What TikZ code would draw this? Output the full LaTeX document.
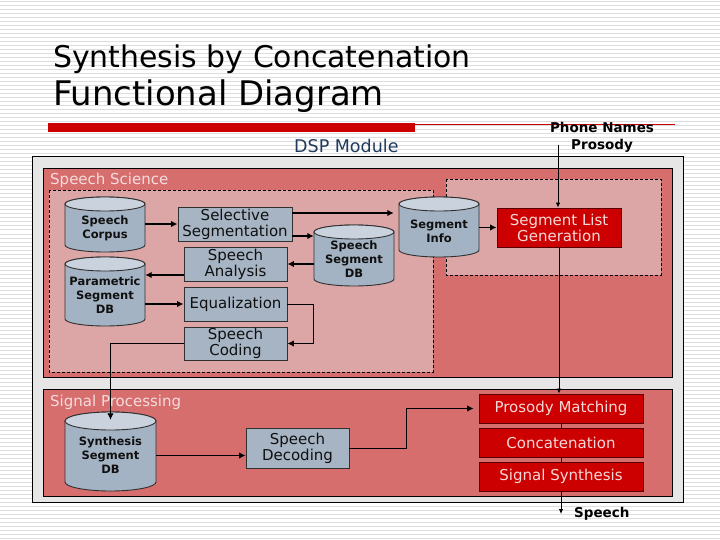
\documentclass[tikz,border=0pt]{standalone}
\usepackage{fontspec}
\setmainfont{DejaVu Sans}
\usetikzlibrary{arrows.meta}
\definecolor{stripe}{HTML}{DDDDDD}
\definecolor{redfill}{HTML}{CC0000}
\definecolor{redborder}{HTML}{5A0000}
\definecolor{redtxt}{HTML}{F6D8D8}
\definecolor{outerfill}{HTML}{E6E6E6}
\definecolor{secfill}{HTML}{D76E6E}
\definecolor{dashfill}{HTML}{DCA6A6}
\definecolor{boxfill}{HTML}{A6B4C4}
\definecolor{cylbody}{HTML}{A4B3C3}
\definecolor{cyltop}{HTML}{CAD3DD}
\definecolor{boxborder}{HTML}{303030}
\definecolor{txt}{HTML}{101010}
\definecolor{dsp}{HTML}{203A5E}
\definecolor{seclabel}{HTML}{F4DCDC}
\tikzset{
  stripeline/.style={draw=stripe, line width=1pt},
  section/.style={draw=black, fill=secfill, line width=1pt},
  dashbox/.style={draw=black, fill=dashfill, line width=0.7pt, dash pattern=on 3pt off 2pt},
  seclab/.style={anchor=base west, inner sep=0pt, text=seclabel, font=\fontsize{15}{18}\selectfont},
  bluebox/.style={draw=boxborder, fill=boxfill, line width=0.9pt, inner sep=0pt, text=txt, align=center, font=\fontsize{15}{16}\selectfont},
  redbox/.style={draw=redborder, fill=redfill, line width=0.9pt, inner sep=0pt, text=redtxt, align=center, font=\fontsize{15}{16}\selectfont},
  cylline/.style={draw=boxborder, line width=0.9pt},
  cyltext/.style={inner sep=0pt, text=txt, align=center, font=\bfseries\fontsize{11.5}{14}\selectfont},
  arr/.style={line width=1.7pt, -{Latex[length=6.5pt,width=6.5pt]}},
  lightarr/.style={line width=1pt, -{Latex[length=6.5pt,width=6.5pt]}},
  thinarr/.style={line width=0.8pt, -{Latex[length=5pt,width=4.5pt]}},
  tie/.style={draw=redborder, line width=1pt}
}
\newcommand\dbcyl[7]{%
  \pgfmathsetmacro\cyL{#2-#4/2}%
  \pgfmathsetmacro\cyR{#2+#4/2}%
  \pgfmathsetmacro\cyT{#3-#5/2+#6}%
  \pgfmathsetmacro\cyB{#3+#5/2-#6}%
  \pgfmathsetmacro\cyRx{#4/2}%
  \pgfmathsetmacro\cyC{#3+4}%
  \pgfmathsetmacro\cyH{#5-8}%
  \draw[cylline, fill=cylbody] (\cyL,\cyT) -- (\cyL,\cyB) arc[start angle=180,end angle=360,x radius=\cyRx pt,y radius=#6pt] -- (\cyR,\cyT) arc[start angle=0,end angle=180,x radius=\cyRx pt,y radius=#6pt] -- cycle;
  \draw[cylline, fill=cyltop] (#2,\cyT) ellipse[x radius=\cyRx pt,y radius=#6pt];
  \node[cyltext, minimum width=#4pt, minimum height=\cyH pt] (#1) at (#2,\cyC) {#7};
}
\begin{document}
\begin{tikzpicture}[x=1pt,y=-1pt]
\useasboundingbox (0,0) rectangle (720,540);
\fill[white] (0,0) rectangle (720,540);
\foreach \yy in {2,6,...,538} \draw[stripeline] (0,\yy) -- (720,\yy);

% title
\node[anchor=base west, inner sep=0pt, font=\fontsize{29.9}{34}\selectfont] (t1) at (53,68) {Synthesis by Concatenation};
\node[anchor=base west, inner sep=0pt, font=\fontsize{33.9}{40}\selectfont] (t2) at (53,106) {Functional Diagram};
\fill[redfill] (48,123) rectangle (415,132);
\draw[redfill, line width=0.8pt] (415,124) -- (675,124);
\node[anchor=base west, inner sep=0pt, text=dsp, font=\fontsize{17.5}{20}\selectfont] (dsp) at (294,153) {DSP Module};
\node[inner sep=0pt, align=center, font=\bfseries\fontsize{13.5}{17}\selectfont] (phone) at (602,137) {Phone Names\\Prosody};
\coordinate (phtop) at (558,145);

% frames
\draw[draw=black, fill=outerfill, line width=1pt] (32,157) rectangle (683,502);
\draw[section] (43,169) rectangle (672,377);
\draw[section] (43,389) rectangle (672,496);
\draw[dashbox] (49,190) rectangle (433,372);
\draw[dashbox] (446,179) rectangle (661,275);
\node[seclab] (sci) at (50,185) {Speech Science};
\node[seclab] (sigp) at (50,406) {Signal Processing};

% databases
\dbcyl{corpus}{105}{224.5}{80}{55}{7}{Speech\\Corpus}
\dbcyl{param}{105}{291.5}{80}{69}{7}{Parametric\\Segment\\DB}
\dbcyl{ssdb}{354}{255.5}{80}{61}{7}{Speech\\Segment\\DB}
\dbcyl{seginfo}{439}{227}{80}{60}{7}{Segment\\Info}
\dbcyl{synth}{110.5}{451.5}{91}{79}{9}{Synthesis\\Segment\\DB}

% process boxes
\node[bluebox, minimum width=114pt, minimum height=34pt] (selseg) at (235,224) {Selective\\Segmentation};
\node[bluebox, minimum width=103pt, minimum height=34pt] (anal) at (235.5,264) {Speech\\Analysis};
\node[bluebox, minimum width=103pt, minimum height=34pt] (equal) at (235.5,304) {Equalization};
\node[bluebox, minimum width=103pt, minimum height=33pt] (coding) at (235.5,343.5) {Speech\\Coding};
\node[bluebox, minimum width=103pt, minimum height=40pt] (decod) at (297.5,448) {Speech\\Decoding};
\node[redbox, minimum width=124pt, minimum height=39pt] (seglist) at (559,227.5) {Segment List\\Generation};
\node[redbox, minimum width=164pt, minimum height=29pt] (prosm) at (561,408.5) {Prosody Matching};
\node[redbox, minimum width=164pt, minimum height=29pt] (concat) at (561,442.5) {Concatenation};
\node[redbox, minimum width=164pt, minimum height=29pt] (sigsyn) at (561,476.5) {Signal Synthesis};
\coordinate (speechout) at (561,514);
\node[anchor=west, inner sep=0pt, font=\bfseries\fontsize{13.5}{17}\selectfont] (speechlab) at (574,514) {Speech};

% connectors
\draw[arr] (corpus.east |- selseg.west) -- (selseg.west);
\draw[arr] ([yshift=11pt]selseg.east) -- ([yshift=11pt,xshift=-5pt]selseg.east -| seginfo.west);
\draw[arr] ([yshift=-12pt]selseg.east) -- ([yshift=-12pt]selseg.east -| ssdb.west);
\draw[arr] (ssdb.west |- anal.east) -- (anal.east);
\draw[arr] ([yshift=-11pt]anal.west) -- ([yshift=-11pt]anal.west -| param.east);
\draw[arr] (param.east |- equal.west) -- (equal.west);
\draw[lightarr] (equal.east) -- (equal.east -| ssdb.west) |- (coding.east);
\draw[lightarr] (coding.west) -| (synth.north);
\draw[arr] (synth.east) -- (synth.east -| decod.west);
\draw[lightarr] (decod.east) -- ++(57,0) |- ([xshift=-5pt]prosm.west);
\draw[arr] (seginfo.east |- seglist.west) -- (seglist.west);
\draw[thinarr] (phtop) -- (phtop |- seglist.north);
\draw[thinarr] (seglist.south) -- (seglist.south |- prosm.north);
\draw[tie] (prosm.south) -- (concat.north);
\draw[tie] (concat.south) -- (sigsyn.north);
\draw[thinarr] (sigsyn.south) -- (speechout);
\end{tikzpicture}
\end{document}
